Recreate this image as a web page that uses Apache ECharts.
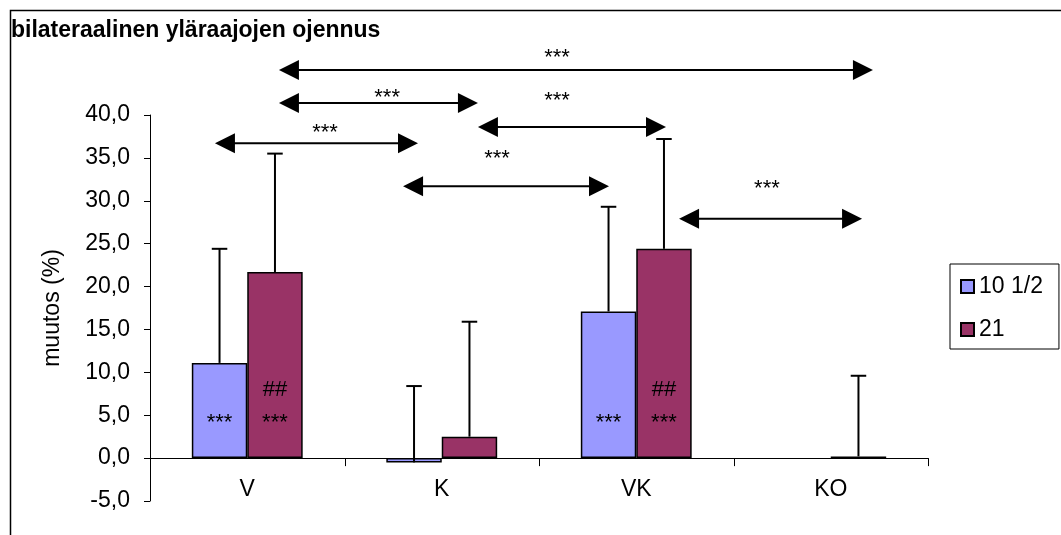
<!DOCTYPE html>
<html>
<head>
<meta charset="utf-8">
<script src="https://cdn.jsdelivr.net/npm/echarts@6/dist/echarts.min.js"></script>
<style>
  html, body { margin: 0; padding: 0; background: #fff; }
  #chart { width: 1061px; height: 535px; }
</style>
</head>
<body>
<div id="chart"></div>
<script>
// Groups on the x axis
const categories = ['V', 'K', 'VK', 'KO'];
// Series names (age groups)
const seriesNames = ['10 1/2', '21'];
// Mean change (%) per group
const mean1 = [11.1, -0.5, 17.1, null];
const mean2 = [21.7, 2.5, 24.4, 0.2];
// Upper error (SD) per group
const sd1 = [13.3, 8.9, 12.2, null];
const sd2 = [13.8, 13.4, 12.8, 9.4];
// Significance marks inside the bars
const within1 = ['***', '', '***', ''];
const hash2 = ['##', '', '##', ''];
const within2 = ['***', '', '***', ''];
// Value axis
const yMin = -5, yMax = 40, yStep = 5;

// Pairwise comparison arrows (x in category units from the left edge, y in %)
const cmpFrom  = [0.663, 0.663, 1.686, 0.334, 1.301, 2.720];
const cmpTo    = [3.717, 1.686, 2.653, 1.378, 2.360, 3.661];
const cmpLevel = [45.25, 41.4, 38.6, 36.7, 31.7, 27.9];
const cmpText  = ['***', '***', '***', '***', '***', '***'];
const cmpTextX = [2.093, 1.219, 2.093, 0.900, 1.784, 3.172];
const cmpTextY = [47.35, 42.7, 42.3, 38.6, 35.6, 32.1];

const FONT = '"Liberation Sans", Arial, sans-serif';
const FS = 23;
const COL1 = '#9999FF';
const COL2 = '#993366';
const CAT_GAP = 0.43;

function fmt(v) { return v.toFixed(1).replace('.', ','); }

function barData(means, top, bottom) {
  return means.map((v, i) => {
    if (v === null) return '-';
    const txt = (top && top[i] ? '{s|' + top[i] + '}\n' : '') + (bottom[i] ? '{s|' + bottom[i] + '}' : '');
    return {
      value: v,
      label: {
        show: txt !== '',
        position: 'insideBottom',
        distance: 19,
        formatter: txt,
        rich: { s: { fontFamily: FONT, fontSize: 22, color: '#000', lineHeight: 33 } }
      }
    };
  });
}

// error bar items: [categoryIndex, mean, sd, side]
const errData = [];
mean1.forEach((v, i) => { if (v !== null && sd1[i] !== null) errData.push([i, v, sd1[i], -1]); });
mean2.forEach((v, i) => { if (v !== null && sd2[i] !== null) errData.push([i, v, sd2[i], 1]); });

const cmpData = cmpFrom.map((f, i) => [f, cmpTo[i], cmpLevel[i], cmpTextX[i], cmpTextY[i], i]);

// category boundaries on the zero line (tick marks pointing down)
const boundaries = categories.map((c, i) => [i + 1, 0]);

const chart = echarts.init(document.getElementById('chart'), null, { renderer: 'canvas' });

chart.setOption({
  animation: false,
  backgroundColor: '#fff',
  textStyle: { fontFamily: FONT },
  title: {
    text: 'bilateraalinen yläraajojen ojennus',
    left: 11, top: 19, padding: 0,
    textStyle: { fontFamily: FONT, fontSize: 23, fontWeight: 'bold', color: '#000' }
  },
  graphic: [{
    type: 'rect', left: 8, top: 8, silent: true,
    shape: { width: 1100, height: 600 },
    style: { fill: 'none', stroke: '#000', lineWidth: 1.5 }
  }],
  legend: {
    orient: 'vertical',
    left: 950, top: 264,
    padding: [11, 16, 8, 10],
    itemGap: 20,
    itemWidth: 13, itemHeight: 13,
    icon: 'rect',
    borderColor: '#000', borderWidth: 1,
    textStyle: { fontFamily: FONT, fontSize: FS, color: '#000' },
    data: seriesNames
  },
  grid: { left: 150, right: 133, top: 115, bottom: 34, outerBoundsMode: 'none', containLabel: false },
  xAxis: [{
    type: 'category',
    data: categories,
    axisLine: { onZero: true, lineStyle: { color: '#000', width: 1 } },
    axisTick: { inside: false, length: 8, lineStyle: { color: '#000' } },
    axisLabel: { margin: -23, fontFamily: FONT, fontSize: FS, color: '#000' },
    splitLine: { show: false }
  }, {
    type: 'value', min: 0, max: categories.length, show: false
  }],
  yAxis: {
    type: 'value',
    min: yMin, max: yMax, interval: yStep,
    name: 'muutos (%)',
    nameLocation: 'middle',
    nameGap: 86,
    nameRotate: 90,
    nameTextStyle: { fontFamily: FONT, fontSize: FS, color: '#000' },
    axisLine: { show: true, lineStyle: { color: '#000', width: 1 } },
    axisTick: { show: true, length: 6, lineStyle: { color: '#000' } },
    axisLabel: { margin: 20, fontFamily: FONT, fontSize: FS, color: '#000', formatter: fmt },
    splitLine: { show: false }
  },
  series: [{
    name: seriesNames[0],
    type: 'bar',
    barGap: '0%',
    barCategoryGap: (CAT_GAP * 100) + '%',
    itemStyle: { color: COL1, borderColor: '#000', borderWidth: 1.5 },
    data: barData(mean1, null, within1),
    z: 2
  }, {
    name: seriesNames[1],
    type: 'bar',
    barGap: '0%',
    barCategoryGap: (CAT_GAP * 100) + '%',
    itemStyle: { color: COL2, borderColor: '#000', borderWidth: 1.5 },
    data: barData(mean2, hash2, within2),
    z: 2
  }, {
    // upward error bars with caps
    type: 'custom',
    xAxisIndex: 0, yAxisIndex: 0,
    z: 3,
    silent: true,
    data: errData,
    renderItem: function (params, api) {
      const i = api.value(0), m = api.value(1), sd = api.value(2), side = api.value(3);
      const catW = api.size([1, 0])[0];
      const barW = catW * (1 - CAT_GAP) / 2;
      const base = api.coord([i, m]);
      const top = api.coord([i, m + sd]);
      const x = base[0] + side * barW / 2;
      const cap = barW * 0.14;
      const st = { stroke: '#000', lineWidth: 2 };
      return {
        type: 'group',
        children: [
          { type: 'line', shape: { x1: x, y1: base[1], x2: x, y2: top[1] }, style: st },
          { type: 'line', shape: { x1: x - cap, y1: top[1], x2: x + cap, y2: top[1] }, style: st }
        ]
      };
    }
  }, {
    // boundary ticks under the zero line
    type: 'custom',
    xAxisIndex: 1, yAxisIndex: 0,
    clip: false,
    z: 3,
    silent: true,
    data: boundaries,
    renderItem: function (params, api) {
      const p = api.coord([api.value(0), api.value(1)]);
      const x = Math.round(p[0]) + 0.5;
      return { type: 'line', shape: { x1: x, y1: p[1], x2: x, y2: p[1] + 8 },
               style: { stroke: '#000', lineWidth: 1 } };
    }
  }, {
    // double-headed comparison arrows with significance text
    type: 'custom',
    xAxisIndex: 1, yAxisIndex: 0,
    clip: false,
    z: 4,
    silent: true,
    data: cmpData,
    renderItem: function (params, api) {
      const a = api.coord([api.value(0), api.value(2)]);
      const b = api.coord([api.value(1), api.value(2)]);
      const t = api.coord([api.value(3), api.value(4)]);
      const idx = api.value(5);
      const L = 20, H = 10;
      return {
        type: 'group',
        children: [
          { type: 'line', shape: { x1: a[0] + L - 2, y1: a[1], x2: b[0] - L + 2, y2: b[1] },
            style: { stroke: '#000', lineWidth: 2 } },
          { type: 'polygon', shape: { points: [[a[0], a[1]], [a[0] + L, a[1] - H], [a[0] + L, a[1] + H]] },
            style: { fill: '#000' } },
          { type: 'polygon', shape: { points: [[b[0], b[1]], [b[0] - L, b[1] - H], [b[0] - L, b[1] + H]] },
            style: { fill: '#000' } },
          { type: 'text', x: t[0], y: t[1] + 6,
            style: { text: cmpText[idx], fontFamily: FONT, fontSize: 22, fill: '#000',
                     align: 'center', verticalAlign: 'middle' } }
        ]
      };
    }
  }]
});
</script>
</body>
</html>
